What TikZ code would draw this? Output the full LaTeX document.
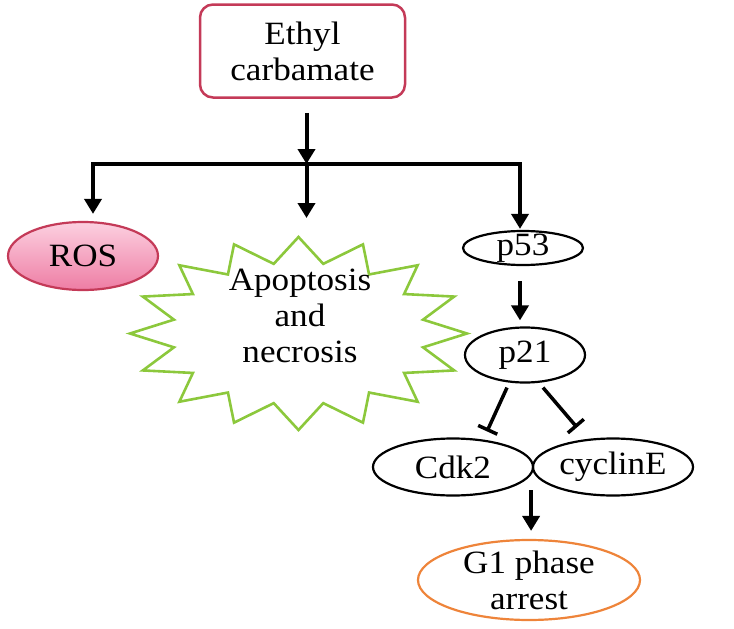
\documentclass[tikz,border=0pt]{standalone}
\usepackage{fontspec}
\setmainfont{Liberation Serif}[FakeStretch=1.08]
\usetikzlibrary{arrows.meta,shapes.geometric,calc}
\definecolor{crim}{RGB}{196,58,88}
\definecolor{pinktop}{RGB}{252,208,224}
\definecolor{pinkbot}{RGB}{238,125,164}
\definecolor{lime}{RGB}{140,200,60}
\definecolor{orng}{RGB}{238,132,58}
\begin{document}
\begin{tikzpicture}[x=1pt,y=-1pt,
  font=\fontsize{32.5}{36}\selectfont,
  arr/.style={line width=4pt,-{Triangle[length=15pt,width=17pt]}},
  inhib/.style={line width=3.5pt,-{Bar[width=21pt,line width=3.5pt]}},
  oval/.style={ellipse,draw,line width=2.2pt,inner sep=0pt,align=center},
  ecbox/.style={rectangle,rounded corners=13pt,draw=crim,line width=2.5pt,
    minimum width=205pt,minimum height=93pt,align=center,inner sep=0pt}]
\useasboundingbox (0,0) rectangle (734,629);
% nodes
\node[ecbox] (ec) at (302.5,51) {Ethyl\\carbamate};
\node[oval,draw=crim,top color=pinktop,bottom color=pinkbot,
  minimum width=150pt,minimum height=68pt] (ros) at (83,256) {ROS};
% starburst
\coordinate (sb) at (298.5,333.5);
\coordinate (sbtop) at (298.5,237);
\draw[lime,line width=2.6pt,line join=miter]
  plot[samples at={0,...,31}]
  ({298.5+ifthenelse(mod(\x,2)==0,168.5,127)*cos(90+\x*11.25)},
   {333.5-ifthenelse(mod(\x,2)==0,96.5,71)*sin(90+\x*11.25)}) -- cycle;
\node[align=center] (apo) at (300,316) {Apoptosis\\and\\necrosis};
\node[oval,minimum width=120pt,minimum height=34pt,inner ysep=-5pt] (p53) at (523,248) {p53};
\node[oval,minimum width=120pt,minimum height=55pt] (p21) at (525,355) {p21};
\node[oval,minimum width=160pt,minimum height=57pt] (cdk) at (453,467) {Cdk2};
\node[oval,minimum width=160pt,minimum height=57pt] (cyc) at (613,467) {cyclinE};
\node[oval,draw=orng,minimum width=222pt,minimum height=80pt,inner ysep=-7pt] (g1) at (529,580) {G1 phase\\arrest};
% connectors
\coordinate (jn) at (306.5,164);
\coordinate (hl) at (93,164);
\coordinate (hr) at (520,164);
\draw[arr,shorten <=14pt] (ec.south -| jn) -- (jn);
\draw[line width=4pt,line cap=rect] (hl) -- (hr);
\draw[arr,shorten >=7pt] (hl) -- (hl |- ros.north);
\draw[arr,shorten >=19pt] (jn) -- (jn |- sbtop);
\draw[arr,shorten >=1pt] (hr) -- (hr |- p53.north);
\draw[arr,shorten <=15pt,shorten >=6pt] (p53.south -| hr) -- (p21.north -| hr);
\draw[inhib] ($(p21.south)+(-18,4)$) -- ($(cdk.north)+(34,-6)$);
\draw[inhib] ($(p21.south)+(18,4)$) -- ($(cyc.north)+(-36,-10)$);
\coordinate (cj) at (cdk.east);
\draw[arr,shorten >=8pt] ($(cj)+(-3,23)$) -- (g1.north -| {$(cj)+(-3,0)$});
\end{tikzpicture}
\end{document}
